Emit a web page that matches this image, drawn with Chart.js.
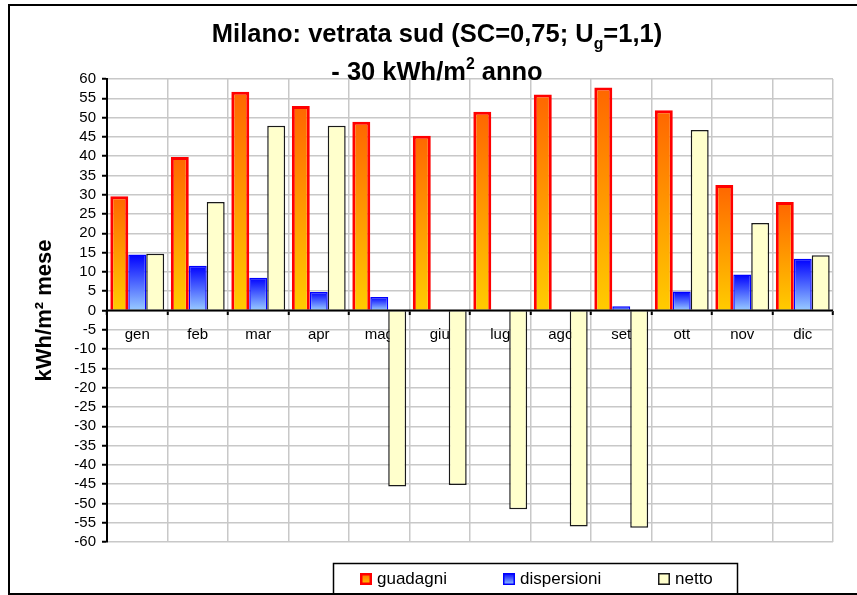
<!DOCTYPE html>
<html>
<head>
<meta charset="utf-8">
<script src="https://cdn.jsdelivr.net/npm/chart.js@4/dist/chart.umd.min.js"></script>
<style>
  html, body { margin: 0; padding: 0; background: #fff; }
  #wrap { width: 857px; height: 595px; position: relative; }
</style>
</head>
<body>
<div id="wrap"><canvas id="grafico" width="857" height="595"></canvas></div>
<script>
// dati (kWh/m2 mese)
const mesi = ['gen', 'feb', 'mar', 'apr', 'mag', 'giu', 'lug', 'ago', 'set', 'ott', 'nov', 'dic'];
const guadagni = [29.6, 39.8, 56.7, 53.0, 48.9, 45.3, 51.5, 56.0, 57.8, 51.9, 32.5, 28.1];
const dispersioni = [14.5, 11.6, 8.5, 4.8, 3.5, 0, 0, 0, 1.1, 4.9, 9.3, 13.4];
const netto = [14.7, 28.1, 47.9, 47.9, -45.6, -45.2, -51.5, -56.0, -56.3, 46.8, 22.7, 14.3];
const etichetteSerie = ['guadagni', 'dispersioni', 'netto'];
const assey = { min: -60, max: 60, passo: 5 };

const FONT = '"Liberation Sans", Arial, sans-serif';

// gradiente verticale per ogni barra (alto -> basso)
function gradienteBarra(context, alto, basso) {
    const chart = context.chart;
    const y = chart.scales.y;
    if (!y || !chart.chartArea || context.type !== 'data') return alto;
    const v = context.raw;
    const yTop = y.getPixelForValue(Math.max(v, 0));
    const yBot = y.getPixelForValue(Math.min(v, 0));
    if (!(yBot > yTop)) return alto;
    const g = chart.ctx.createLinearGradient(0, yTop, 0, yBot);
    g.addColorStop(0, alto);
    g.addColorStop(1, basso);
    return g;
}

// disegna testo con pedici / apici, centrato su cx
function testoComposto(ctx, parti, cx, baseline, size) {
    const misura = p => {
        ctx.font = 'bold ' + (p.sub || p.sup ? size * 0.62 : size) + 'px ' + FONT;
        return ctx.measureText(p.t).width;
    };
    const totale = parti.reduce((s, p) => s + misura(p), 0);
    let x = cx - totale / 2;
    ctx.textAlign = 'left';
    ctx.textBaseline = 'alphabetic';
    ctx.fillStyle = '#000';
    parti.forEach(p => {
        const w = misura(p);
        let dy = 0;
        if (p.sub) dy = size * 0.26;
        if (p.sup) dy = -size * 0.42;
        ctx.fillText(p.t, x, baseline + dy);
        x += w;
    });
}

const titoloPlugin = {
    id: 'titolo',
    afterDraw(chart) {
        const ctx = chart.ctx;
        ctx.save();
        testoComposto(ctx, [
            { t: 'Milano: vetrata sud (SC=0,75; U' }, { t: 'g', sub: true }, { t: '=1,1)' }
        ], 437, 42, 25.5);
        testoComposto(ctx, [
            { t: '- 30 kWh/m' }, { t: '2', sup: true }, { t: ' anno' }
        ], 437, 80, 25.5);
        ctx.restore();
    }
};

// cornice esterna
const corniceePlugin = {
    id: 'cornice',
    afterDraw(chart) {
        const ctx = chart.ctx;
        ctx.save();
        ctx.strokeStyle = '#000';
        ctx.lineWidth = 2;
        ctx.beginPath();
        ctx.moveTo(870, 5);
        ctx.lineTo(9, 5);
        ctx.lineTo(9, 594);
        ctx.lineTo(870, 594);
        ctx.stroke();
        ctx.restore();
    }
};

// linea dello zero sopra le barre
const assePlugin = {
    id: 'asseZero',
    afterDatasetsDraw(chart) {
        const ctx = chart.ctx;
        const y0 = chart.scales.y.getPixelForValue(0);
        ctx.save();
        ctx.strokeStyle = '#000';
        ctx.lineWidth = 2;
        ctx.beginPath();
        ctx.moveTo(chart.chartArea.left, y0);
        ctx.lineTo(chart.chartArea.right, y0);
        ctx.stroke();
        ctx.restore();
    }
};

// legenda in riquadro, stile Excel
const legendaPlugin = {
    id: 'legendaBox',
    afterDraw(chart) {
        const ctx = chart.ctx;
        ctx.save();
        ctx.strokeStyle = '#000';
        ctx.lineWidth = 1.5;
        ctx.strokeRect(333.5, 563.5, 404, 40);
        const xs = [360, 503, 658];
        chart.data.datasets.forEach((ds, i) => {
            const x = xs[i], y = 573, s = 12;
            const g = ctx.createLinearGradient(0, y, 0, y + s);
            g.addColorStop(0, ds.coloriLegenda[0]);
            g.addColorStop(1, ds.coloriLegenda[1]);
            ctx.fillStyle = ds.borderColor;
            ctx.fillRect(x, y, s, s);
            ctx.fillStyle = g;
            const b = i === 0 ? 2.5 : 1.5;
            ctx.fillRect(x + b, y + b, s - 2 * b, s - 2 * b);
            ctx.fillStyle = '#000';
            ctx.font = '17px ' + FONT;
            ctx.textBaseline = 'alphabetic';
            ctx.textAlign = 'left';
            ctx.fillText(ds.label, x + 17, 584);
        });
        ctx.restore();
    }
};

new Chart(document.getElementById('grafico'), {
    type: 'bar',
    data: {
        labels: mesi,
        datasets: [
            {
                label: etichetteSerie[0],
                data: guadagni,
                backgroundColor: c => gradienteBarra(c, '#FF6600', '#FFCC00'),
                coloriLegenda: ['#FF6600', '#FFCC00'],
                borderColor: '#FF0000',
                borderWidth: 3,
                borderSkipped: 'start'
            },
            {
                label: etichetteSerie[1],
                data: dispersioni,
                backgroundColor: c => gradienteBarra(c, '#0000FF', '#99CCFF'),
                coloriLegenda: ['#0000FF', '#99CCFF'],
                borderColor: '#0000FF',
                borderWidth: 1.5,
                borderSkipped: 'start'
            },
            {
                label: etichetteSerie[2],
                data: netto,
                backgroundColor: '#FFFFCC',
                coloriLegenda: ['#FFFFCC', '#FFFFCC'],
                borderColor: '#1a1a1a',
                borderWidth: 1.5,
                borderSkipped: 'start'
            }
        ]
    },
    options: {
        responsive: false,
        animation: false,
        devicePixelRatio: 1,
        layout: { padding: { left: 10, right: 24, top: 79, bottom: 53 } },
        datasets: {
            bar: { categoryPercentage: 0.89, barPercentage: 1.0 }
        },
        plugins: {
            legend: { display: false },
            title: { display: false },
            tooltip: { enabled: false }
        },
        scales: {
            x: {
                position: { y: 0 },
                offset: true,
                grid: {
                    offset: true,
                    color: '#C8C8C8',
                    lineWidth: 1.5,
                    tickColor: '#000',
                    tickLength: 4,
                    tickWidth: 2
                },
                border: { display: false },
                ticks: {
                    color: '#000',
                    padding: 11,
                    maxRotation: 0,
                    font: { family: FONT, size: 15 }
                }
            },
            y: {
                min: assey.min,
                max: assey.max,
                afterFit: s => { s.width = 97; },
                grid: {
                    color: '#C8C8C8',
                    lineWidth: 1.5,
                    tickColor: '#000',
                    tickLength: 5,
                    tickWidth: 2
                },
                border: { color: '#000', width: 2 },
                ticks: {
                    stepSize: assey.passo,
                    autoSkip: false,
                    color: '#000',
                    padding: 6,
                    font: { family: FONT, size: 15 }
                },
                title: {
                    display: true,
                    text: 'kWh/m² mese',
                    color: '#000',
                    font: { family: FONT, size: 22, weight: 'bold' },
                    padding: { top: 22, bottom: 0 }
                }
            }
        }
    },
    plugins: [assePlugin, titoloPlugin, legendaPlugin, corniceePlugin]
});
</script>
</body>
</html>
